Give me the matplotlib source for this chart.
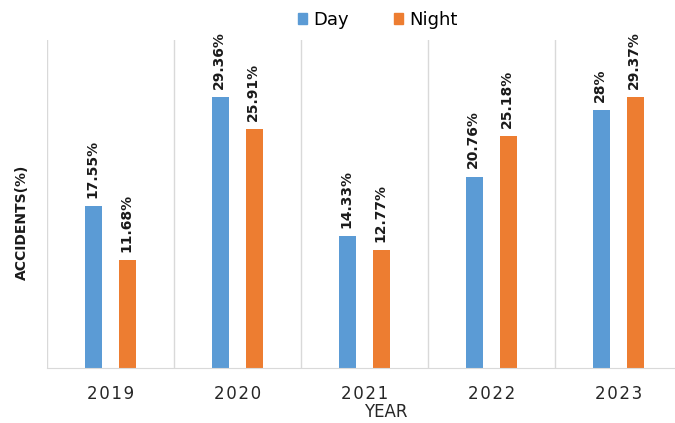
import numpy as np
import matplotlib.pyplot as plt
from matplotlib.patches import Patch

years = ['2019', '2020', '2021', '2022', '2023']
day = [17.55, 29.36, 14.33, 20.76, 28.00]
night = [11.68, 25.91, 12.77, 25.18, 29.37]
day_labels = ['17.55%', '29.36%', '14.33%', '20.76%', '28%']
night_labels = ['11.68%', '25.91%', '12.77%', '25.18%', '29.37%']

blue = '#5B9BD5'
orange = '#ED7D31'

fig = plt.figure(figsize=(6.75, 4.23), dpi=100)
ax = fig.add_axes([47/675, 55/423, 635/675, 328/423])

x = np.arange(len(years))
w = 0.14
off = 0.134
b1 = ax.bar(x - off, day, w, color=blue)
b2 = ax.bar(x + off, night, w, color=orange)

for bars, labs in ((b1, day_labels), (b2, night_labels)):
    for bar, lab in zip(bars, labs):
        ax.annotate(lab, (bar.get_x() + bar.get_width()/2, bar.get_height()),
                    xytext=(-1, 6), textcoords='offset points',
                    rotation=90, ha='center', va='bottom',
                    fontsize=10, fontweight='bold', color='#1a1a1a')

for b in np.arange(-0.5, len(years), 1):
    ax.axvline(b, color='#d9d9d9', lw=1, zorder=0)

ax.set_xlim(-0.5, len(years) - 0.5)
ax.set_ylim(0, 35.6)
ax.set_yticks([])
ax.set_xticks(x)
ax.set_xticklabels(['\u200a'.join(y) for y in years], fontsize=12, color='#262626')
ax.tick_params(axis='x', length=0, pad=12)
for s in ['top', 'right', 'left']:
    ax.spines[s].set_visible(False)
ax.spines['bottom'].set_color('#d9d9d9')

fig.text(386/675, 1 - 412/423, 'YEAR', ha='center', va='center', fontsize=12, color='#262626')
fig.text(22/675, 1 - 222/423, 'ACCIDENTS(%)', ha='center', va='center', rotation=90,
         fontsize=10, fontweight='bold', color='#1a1a1a')

handles = [Patch(color=blue, label='Day'), Patch(color=orange, label='Night')]
fig.legend(handles=handles, loc='center', bbox_to_anchor=(378/675, 1 - 20/423), ncol=2,
           frameon=False, fontsize=13, handlelength=0.5, handleheight=0.5,
           handletextpad=0.35, columnspacing=2.5)

fig.savefig('out.png', dpi=100)
